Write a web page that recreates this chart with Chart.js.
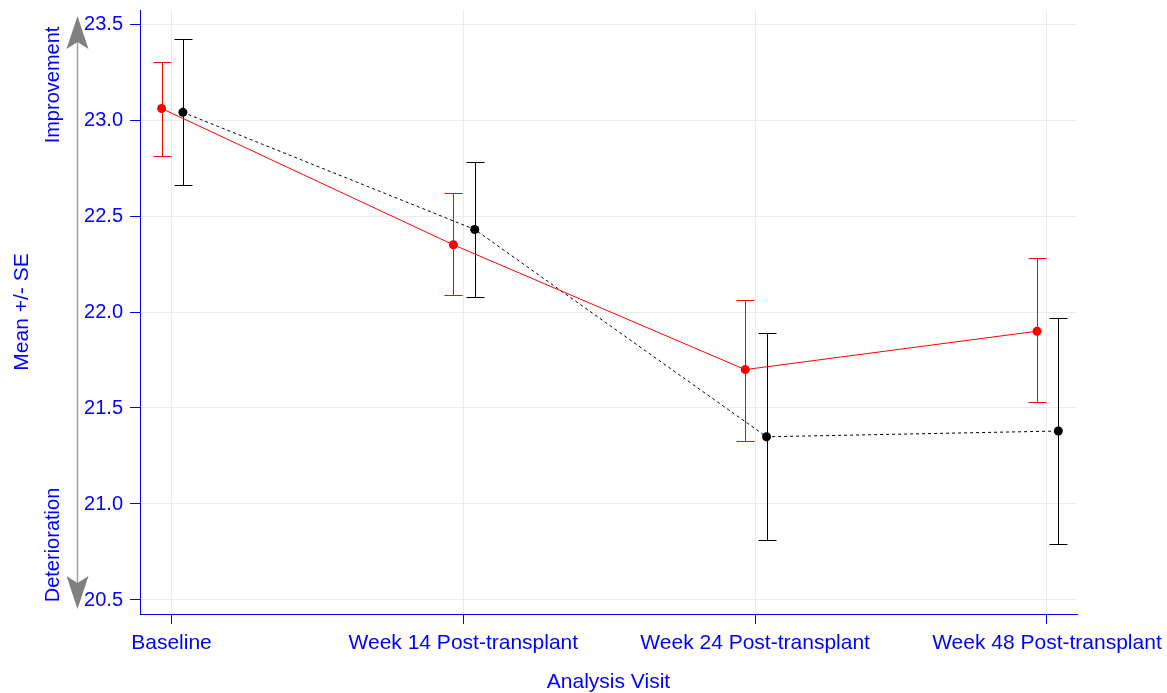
<!DOCTYPE html>
<html>
<head>
<meta charset="utf-8">
<script src="https://cdn.jsdelivr.net/npm/chart.js@4.4.1/dist/chart.umd.min.js"></script>
<style>
  html, body { margin: 0; padding: 0; background: #fff; }
  #wrap { width: 1167px; height: 693px; }
</style>
</head>
<body>
<div id="wrap"><canvas id="lineGraph"></canvas></div>
<script>
// categories and values
const visits = ['Baseline', 'Week 14 Post-transplant', 'Week 24 Post-transplant', 'Week 48 Post-transplant']
const redMean = [23.06, 22.35, 21.70, 21.90]
const redLow = [22.81, 22.09, 21.33, 21.53]
const redHigh = [23.30, 22.62, 22.06, 22.28]
const blackMean = [23.04, 22.43, 21.35, 21.38]
const blackLow = [22.66, 22.08, 20.81, 20.79]
const blackHigh = [23.42, 22.78, 21.89, 21.97]
const yTicks = [20.5, 21.0, 21.5, 22.0, 22.5, 23.0, 23.5]

const blue = '#0000ff'
const fontName = '"Liberation Sans", Arial, sans-serif'

/* error bars drawn through the scales, under the markers */
const errorBars = {
    id: 'errorBars',
    beforeDatasetsDraw(chart) {
        const { ctx, scales: { x, y } } = chart
        chart.data.datasets.forEach(ds => {
            ctx.save()
            ctx.strokeStyle = ds.borderColor
            ctx.lineWidth = 1
            ds.data.forEach((p, i) => {
                const px = Math.round(x.getPixelForValue(p.x)) + 0.5
                const top = Math.round(y.getPixelForValue(ds.high[i])) + 0.5
                const bot = Math.round(y.getPixelForValue(ds.low[i])) + 0.5
                ctx.beginPath()
                ctx.moveTo(px, top); ctx.lineTo(px, bot)
                ctx.moveTo(px - 9, top); ctx.lineTo(px + 9, top)
                ctx.moveTo(px - 9, bot); ctx.lineTo(px + 9, bot)
                ctx.stroke()
            })
            ctx.restore()
        })
    }
}

/* grey double arrow with Improvement / Deterioration on the left */
const sideArrow = {
    id: 'sideArrow',
    afterDraw(chart) {
        const { ctx, chartArea } = chart
        const ax = 77.5
        const top = chartArea.top + 6
        const bot = chartArea.bottom - 5
        ctx.save()
        ctx.strokeStyle = '#a0a0a0'
        ctx.lineWidth = 1.5
        ctx.beginPath()
        ctx.moveTo(ax, top + 20); ctx.lineTo(ax, bot - 20)
        ctx.stroke()
        ctx.fillStyle = '#808080'
        ctx.beginPath()
        ctx.moveTo(ax, top); ctx.lineTo(ax - 11, top + 33); ctx.lineTo(ax, top + 26); ctx.lineTo(ax + 11, top + 33)
        ctx.closePath(); ctx.fill()
        ctx.beginPath()
        ctx.moveTo(ax, bot); ctx.lineTo(ax - 11, bot - 33); ctx.lineTo(ax, bot - 26); ctx.lineTo(ax + 11, bot - 33)
        ctx.closePath(); ctx.fill()

        ctx.fillStyle = blue
        ctx.font = '20px ' + fontName
        ctx.textAlign = 'center'
        ctx.textBaseline = 'middle'
        ctx.translate(53, chartArea.top + 75)
        ctx.rotate(-Math.PI / 2)
        ctx.fillText('Improvement', 0, 0)
        ctx.rotate(Math.PI / 2)
        ctx.translate(0, (chartArea.bottom - 69) - (chartArea.top + 75))
        ctx.rotate(-Math.PI / 2)
        ctx.fillText('Deterioration', 0, 0)
        ctx.restore()
    }
}

let ctx = document.querySelector('#lineGraph').getContext('2d')

let dados = {
    datasets: [
        {
            borderColor: '#ff0000',
            backgroundColor: '#ff0000',
            borderWidth: 1,
            pointRadius: 4.5,
            pointBorderWidth: 0,
            data: redMean.map((v, i) => ({ x: i - 0.034, y: v })),
            low: redLow,
            high: redHigh
        },
        {
            borderColor: '#000000',
            backgroundColor: '#000000',
            borderWidth: 1,
            borderDash: [3, 3],
            pointRadius: 4.5,
            pointBorderWidth: 0,
            data: blackMean.map((v, i) => ({ x: i + 0.039, y: v })),
            low: blackLow,
            high: blackHigh
        }
    ]
}

let opcoes = {
    responsive: true,
    maintainAspectRatio: false,
    animation: false,
    layout: { padding: { top: 10, right: 90, left: 0, bottom: 0 } },
    plugins: {
        legend: { display: false },
        tooltip: { enabled: false }
    },
    scales: {
        x: {
            type: 'linear',
            min: -0.108,
            max: 3.103,
            afterBuildTicks: s => { s.ticks = visits.map((v, i) => ({ value: i })) },
            afterFit: s => { s.height = 79; s.paddingLeft = 0; s.paddingRight = 0 },
            ticks: {
                color: blue,
                font: { family: fontName, size: 21 },
                padding: 7,
                autoSkip: false,
                maxRotation: 0,
                callback: v => visits[v]
            },
            grid: { color: '#ebebeb', tickColor: blue, tickLength: 10 },
            border: { color: blue, width: 1 },
            title: {
                display: true,
                text: 'Analysis Visit',
                color: blue,
                font: { family: fontName, size: 21 },
                padding: { top: 0, bottom: -2 }
            }
        },
        y: {
            min: 20.427,
            max: 23.573,
            afterBuildTicks: s => { s.ticks = yTicks.map(v => ({ value: v })) },
            afterFit: s => { s.width = 140; s.paddingTop = 0; s.paddingBottom = 0 },
            ticks: {
                color: blue,
                font: { family: fontName, size: 20 },
                padding: 7,
                callback: v => Number(v).toFixed(1)
            },
            grid: { color: '#ebebeb', tickColor: blue, tickLength: 10 },
            border: { color: blue, width: 1 },
            title: {
                display: true,
                text: 'Mean +/- SE',
                color: blue,
                font: { family: fontName, size: 21 },
                padding: { top: 10, bottom: 0 }
            }
        }
    }
}

let lineChart = new Chart(ctx, {
    type: 'line',
    data: dados,
    options: opcoes,
    plugins: [errorBars, sideArrow]
})
</script>
</body>
</html>
